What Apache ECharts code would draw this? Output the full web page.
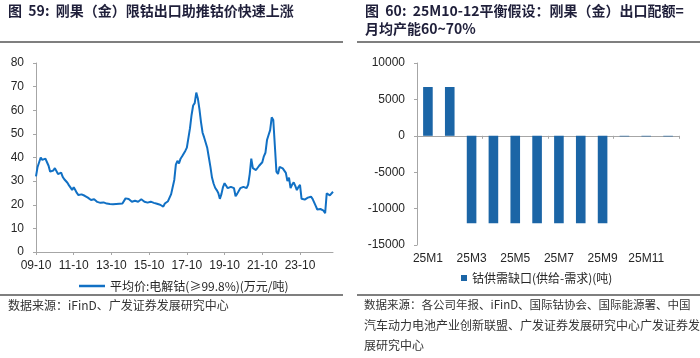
<!DOCTYPE html>
<html>
<head>
<meta charset="utf-8">
<script src="https://cdn.jsdelivr.net/npm/echarts@6/dist/echarts.min.js"></script>
<style>
html,body{margin:0;padding:0;background:#fff;}
#c{width:700px;height:358px;}
</style>
</head>
<body>
<div id="c"></div>
<script>
// ---- Left chart: monthly cobalt price, 2009-10 .. 2025-07 ----
const startYear = 2009, startMonth = 10, monthCount = 190;
const priceValues = [
32,36,36,40,39,38.5,39.5,38,36.5,34,33.5,34.5,35.5,35,33,33.3,33.6,31.8,30.8,30,
29.3,28.2,27.6,26.3,27.4,26.2,25,24.1,24.8,24.4,24.1,23.8,23.4,23,22.4,22,22.6,22.3,21.6,21.2,
21,20.8,20.6,21,21.3,20.5,19.9,20.3,20.2,20.2,19.9,20.3,20.6,20.4,20.3,20.5,20.8,22.7,23,22.4,
21.8,21.3,21.5,21.7,21.5,21.3,21.8,22.3,21.8,21.3,21.3,20.9,21,21.3,21,20.8,20.6,20.4,20.3,20,
19.9,19.2,20.5,21.3,21.5,22.2,24.5,27.5,30.5,37,38.6,37.5,39.5,40.5,41.3,42.8,44.2,45,52.4,58,
62,63,67.5,65,60.5,55,50.5,48.5,48.3,44,40,36,31.5,29,27.2,26.2,25,22.5,24.5,27.5,
29.1,29,27,26.5,27.6,27.6,27,23.6,24.6,24.2,27,27.3,27.6,27.3,27,28.5,33,39.5,35.5,35,
34.7,35.4,36.5,36.4,38,40.5,42,47.4,49.5,51.6,57,55.9,45,34,33,36,35.5,35.4,35,33.5,
30,31.5,27,28.5,29.5,28,26.2,27.5,28.4,22.5,22,22.2,22,23,22.5,23.4,22.5,21,19.5,18,
17.8,18.2,18.1,17.5,16.4,24.8,24.5,24,24.5,25.5
];
const priceName = '平均价:电解钴(≥99.8%)(万元/吨)';
const priceTicks = [0,10,20,30,40,50,60,70,80];

// ---- Right chart: supply-demand gap 2025 ----
const gapCategories = ['25M1','25M2','25M3','25M4','25M5','25M6','25M7','25M8','25M9','25M10','25M11','25M12'];
const gapValues = [6700,6700,-12000,-12000,-12000,-12000,-12000,-12000,-12000,-80,-80,-80];
const gapName = '钴供需缺口(供给-需求)(吨)';
const gapTicks = [-15000,-10000,-5000,0,5000,10000];

// month category labels (yy-mm)
const monthLabels = [];
for (let i = 0; i < monthCount; i++) {
  const t = startMonth - 1 + i;
  const y = startYear + Math.floor(t / 12);
  const m = (t % 12) + 1;
  monthLabels.push(String(y % 100).padStart(2,'0') + '-' + String(m).padStart(2,'0'));
}

const FONT = '"Liberation Sans", Arial, "Noto Sans CJK SC", sans-serif';
const CJK = '"Noto Sans CJK SC", "Liberation Sans", sans-serif';
const axisColor = '#a6a6a6';
const labelColor = '#262626';
const titleColor = '#1f1f3a';

const chart = echarts.init(document.getElementById('c'), null, {renderer:'canvas'});
chart.setOption({
  animation:false,
  backgroundColor:'#fff',
  textStyle:{fontFamily:FONT},
  grid:[
    {left:36, right:367, top:63, bottom:106},
    {left:417, right:21, top:63, bottom:113}
  ],
  xAxis:[
    {gridIndex:0, type:'category', data:monthLabels, boundaryGap:false,
     axisLine:{lineStyle:{color:axisColor, width:1}},
     axisTick:{show:true, interval:23, length:3, lineStyle:{color:axisColor}},
     axisLabel:{interval:23, margin:8, fontSize:12, color:labelColor, fontFamily:FONT},
     splitLine:{show:false}},
    {gridIndex:1, type:'category', data:gapCategories, position:'bottom',
     axisLine:{onZero:true, lineStyle:{color:axisColor, width:1}},
     axisTick:{show:true, length:3, lineStyle:{color:axisColor}},
     axisLabel:{show:false}, splitLine:{show:false}},
    {gridIndex:1, type:'category', data:gapCategories, position:'bottom',
     axisLine:{show:false, onZero:false}, axisTick:{show:false},
     axisLabel:{interval:1, margin:8, fontSize:12, color:labelColor, fontFamily:FONT},
     splitLine:{show:false}}
  ],
  yAxis:[
    {gridIndex:0, type:'value', min:priceTicks[0], max:priceTicks[priceTicks.length-1], interval:10,
     axisLine:{show:true, lineStyle:{color:axisColor}},
     axisTick:{show:true, length:3, lineStyle:{color:axisColor}},
     axisLabel:{margin:12, fontSize:12, color:labelColor, fontFamily:FONT},
     splitLine:{show:false}},
    {gridIndex:1, type:'value', min:gapTicks[0], max:gapTicks[gapTicks.length-1], interval:5000,
     axisLine:{show:true, lineStyle:{color:axisColor}},
     axisTick:{show:true, length:3, lineStyle:{color:axisColor}},
     axisLabel:{margin:12, fontSize:12, color:labelColor, fontFamily:FONT, formatter:function(v){return String(v);}},
     splitLine:{show:false}}
  ],
  legend:[
    {data:[{name:priceName, icon:'rect'}], left:74, top:275, itemWidth:26, itemHeight:2.5, itemGap:5,
     textStyle:{fontSize:12, color:labelColor, fontFamily:CJK}},
    {data:[{name:gapName, icon:'rect'}], left:456, top:267, itemWidth:6, itemHeight:6, itemGap:3,
     textStyle:{fontSize:12, color:labelColor, fontFamily:CJK}}
  ],
  series:[
    {name:priceName, type:'line', xAxisIndex:0, yAxisIndex:0, data:priceValues,
     symbol:'none', smooth:false, lineStyle:{color:'#1170c4', width:2}, itemStyle:{color:'#1170c4'}},
    {name:gapName, type:'bar', xAxisIndex:1, yAxisIndex:1, data:gapValues,
     barWidth:'44%', itemStyle:{color:'#1b65a6'}}
  ],
  graphic:[
    {type:'text', left:8, top:4, style:{text:'图  59:  刚果（金）限钴出口助推钴价快速上涨', fill:titleColor, font:'bold 14px '+CJK}},
    {type:'text', left:365, top:4, style:{text:'图  60:  25M10-12平衡假设：刚果（金）出口配额=', fill:titleColor, font:'bold 14px '+CJK}},
    {type:'text', left:365, top:22, style:{text:'月均产能60~70%', fill:titleColor, font:'bold 14px '+CJK}},
    {type:'line', shape:{x1:0,y1:42,x2:343,y2:42}, style:{stroke:'#555', lineWidth:1.5}},
    {type:'line', shape:{x1:357,y1:42,x2:700,y2:42}, style:{stroke:'#555', lineWidth:1.5}},
    {type:'line', shape:{x1:0,y1:295,x2:343,y2:295}, style:{stroke:'#555', lineWidth:1.5}},
    {type:'line', shape:{x1:357,y1:295,x2:700,y2:295}, style:{stroke:'#555', lineWidth:1.5}},
    {type:'text', left:8, top:299, style:{text:'数据来源：iFinD、广发证券发展研究中心', fill:'#333', font:'12px '+CJK}},
    {type:'text', left:364, top:299, style:{text:'数据来源：各公司年报、iFinD、国际钴协会、国际能源署、中国', fill:'#333', font:'11.5px '+CJK}},
    {type:'text', left:364, top:319, style:{text:'汽车动力电池产业创新联盟、广发证券发展研究中心广发证券发', fill:'#333', font:'12px '+CJK}},
    {type:'text', left:364, top:339, style:{text:'展研究中心', fill:'#333', font:'12px '+CJK}}
  ]
});
</script>
</body>
</html>
